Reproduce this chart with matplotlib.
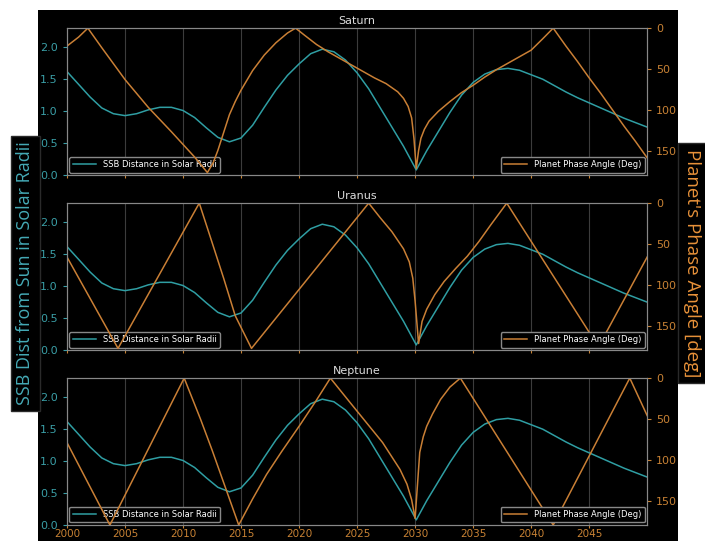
import matplotlib
matplotlib.use("Agg")
import matplotlib.pyplot as plt
from matplotlib.patches import Rectangle

# SSB distance from the Sun's centre (solar radii)
ssb_years = [2000, 2001, 2002, 2003, 2004, 2005, 2006, 2007, 2008, 2009,
             2010, 2011, 2012, 2013, 2014, 2015, 2016, 2017, 2018, 2019,
             2020, 2021, 2022, 2023, 2024, 2025, 2026, 2027, 2028, 2029,
             2030.1, 2031, 2032, 2033, 2034, 2035, 2036, 2037, 2038, 2039,
             2040, 2041, 2042, 2043, 2044, 2045, 2046, 2047, 2048, 2049, 2050]
ssb_dist = [1.62, 1.42, 1.22, 1.05, 0.96, 0.93, 0.96, 1.02, 1.06, 1.06,
            1.01, 0.90, 0.74, 0.59, 0.52, 0.58, 0.78, 1.06, 1.33, 1.56,
            1.74, 1.90, 1.97, 1.93, 1.80, 1.60, 1.35, 1.05, 0.75, 0.45,
            0.08, 0.38, 0.68, 0.98, 1.25, 1.45, 1.58, 1.65, 1.67, 1.64,
            1.57, 1.50, 1.40, 1.30, 1.21, 1.13, 1.05, 0.97, 0.89, 0.82, 0.75]

# planet phase angle (deg)
saturn_years = [2000, 2001, 2001.8, 2003, 2005, 2007, 2009, 2011, 2012.1, 2012.6,
                2013, 2013.5, 2014, 2014.5, 2015, 2016, 2017, 2018, 2019, 2019.7,
                2020.5, 2021.5, 2022.5, 2023.5, 2024.5, 2025.5, 2026.5, 2027.5, 2028.5, 2029,
                2029.4, 2029.7, 2029.9, 2030.1, 2030.3, 2030.5, 2030.8, 2031.2, 2032, 2033,
                2034, 2035, 2036, 2037, 2038, 2039, 2040, 2041, 2041.9, 2043,
                2044, 2045, 2046, 2047, 2048, 2049, 2050]
saturn_phase = [22, 11, 0, 24, 63, 97, 127, 158, 177, 165,
                150, 128, 106, 90, 76, 52, 33, 18, 6, 0,
                9, 20, 29, 37, 45, 53, 61, 68, 78, 86,
                96, 110, 135, 172, 150, 135, 124, 114, 102, 90,
                79, 70, 60, 51, 43, 35, 27, 13, 0, 22,
                41, 61, 80, 100, 120, 139, 159]

uranus_years = [2000, 2004.4, 2011.4, 2012.5, 2013.5, 2014.5, 2015.9, 2026.0, 2027, 2028,
                2029, 2029.5, 2029.8, 2030.0, 2030.3, 2030.6, 2031, 2031.7, 2032.5, 2033.5,
                2034.5, 2035.5, 2036.5, 2037.9, 2045.8, 2050]
uranus_phase = [66, 178, 0, 48, 92, 138, 178, 0, 18, 35,
                56, 72, 92, 120, 172, 145, 130, 112, 96, 80,
                65, 47, 27, 0, 176, 66]

neptune_years = [2000, 2003.7, 2010.1, 2011.5, 2012.5, 2013.5, 2014.8, 2016, 2017.2, 2018.5,
                 2020.1, 2021.5, 2022.7, 2024.4, 2026, 2027.2, 2028.7, 2029.3, 2029.7, 2030.0,
                 2030.4, 2030.7, 2031.0, 2031.5, 2032.2, 2033, 2033.9, 2041.9, 2048.5, 2050]
neptune_phase = [79, 180, 0, 50, 88, 128, 180, 148, 118, 90,
                 57, 27, 0, 30, 58, 79, 112, 130, 149, 172,
                 91, 72, 59, 44, 26, 11, 0, 180, 0, 46]

planets = ["Saturn", "Uranus", "Neptune"]
phase_years = [saturn_years, uranus_years, neptune_years]
phases = [saturn_phase, uranus_phase, neptune_phase]

teal = "#2f9ea3"
orange = "#c97f35"
teal_txt = "#3a9ea6"
orange_txt = "#c88234"

plt.style.use("dark_background")
fig = plt.figure(figsize=(7.05, 5.41), dpi=100, facecolor="white")
fig.patches.append(Rectangle((0.054, 0.0), 0.908, 0.9815, transform=fig.transFigure,
                             facecolor="black", edgecolor="none", zorder=-10))

bottoms = [0.6765, 0.353, 0.0296]
height = 0.2715
for i, name in enumerate(planets):
    ax = fig.add_axes((0.095, bottoms[i], 0.823, height))
    ax.set_facecolor("black")
    ax.plot(ssb_years, ssb_dist, color=teal, lw=1.1, label="SSB Distance in Solar Radii")
    ax.set_xlim(2000, 2050)
    ax.set_ylim(0, 2.3)
    ax.set_xticks(range(2000, 2050, 5))
    ax.set_yticks([0.0, 0.5, 1.0, 1.5, 2.0])
    ax.tick_params(axis="y", colors=teal_txt, labelsize=8, length=3)
    ax.tick_params(axis="x", colors=orange_txt, labelsize=7.5, length=2, pad=1)
    ax.grid(axis="x", color="#3c3c3c", lw=0.8)
    if i < 2:
        ax.tick_params(axis="x", labelbottom=False)
    for sp in ax.spines.values():
        sp.set_color("#888888")
    ax.set_title(name, color="#dddddd", fontsize=8, pad=3)
    leg = ax.legend(loc="lower left", fontsize=6, frameon=True, facecolor="black",
                    edgecolor="#888888", borderaxespad=0.3, handlelength=2.8)
    leg.get_frame().set_alpha(1)

    ax2 = ax.twinx()
    ax2.plot(phase_years[i], phases[i], color=orange, lw=1.1, label="Planet Phase Angle (Deg)")
    ax2.set_ylim(180, 0)
    ax2.set_yticks([0, 50, 100, 150])
    ax2.tick_params(axis="y", colors=orange_txt, labelsize=8, length=3)
    for sp in ax2.spines.values():
        sp.set_color("#888888")
    leg2 = ax2.legend(loc="lower right", fontsize=6, frameon=True, facecolor="black",
                      edgecolor="#888888", borderaxespad=0.3, handlelength=2.8)
    leg2.get_frame().set_alpha(1)

fig.text(0.036, 0.495, "SSB Dist from Sun in Solar Radii", rotation=90, ha="center", va="center",
         color="#45aab6", fontsize=13, family="Open Sans",
         bbox=dict(facecolor="black", edgecolor="#2a2a2a", pad=4))
fig.text(0.982, 0.514, "Planet's Phase Angle [deg]", rotation=270, ha="center", va="center",
         color="#e8923a", fontsize=13.5, family="Open Sans",
         bbox=dict(facecolor="black", edgecolor="#2a2a2a", pad=4))

fig.savefig("out.png", dpi=100)
